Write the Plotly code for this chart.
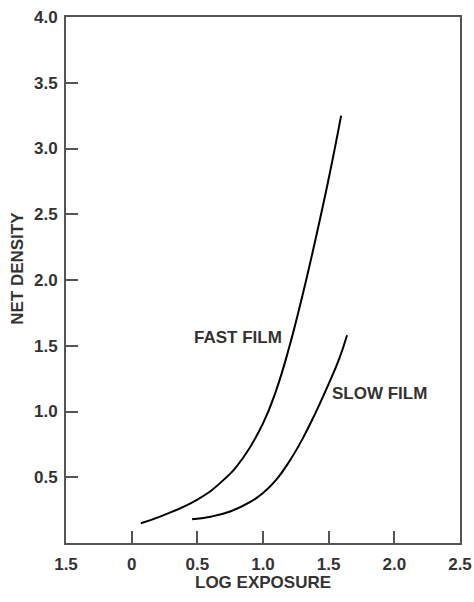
import plotly.graph_objects as go

# Fast film characteristic curve (log exposure, net density)
fast_x = [0.07, 0.24, 0.50, 0.70, 0.85, 1.00, 1.10, 1.20, 1.30, 1.40, 1.50, 1.595]
fast_y = [0.15, 0.21, 0.33, 0.48, 0.65, 0.91, 1.16, 1.49, 1.88, 2.31, 2.77, 3.25]

# Slow film characteristic curve
slow_x = [0.46, 0.60, 0.75, 0.90, 1.00, 1.10, 1.20, 1.30, 1.40, 1.50, 1.58, 1.64]
slow_y = [0.18, 0.20, 0.24, 0.31, 0.38, 0.48, 0.62, 0.79, 0.99, 1.21, 1.40, 1.58]

x_tickvals = [-0.5, 0, 0.5, 1.0, 1.5, 2.0, 2.5]
x_ticktext = ["1.5", "0", "0.5", "1.0", "1.5", "2.0", "2.5"]
y_tickvals = [0.5, 1.0, 1.5, 2.0, 2.5, 3.0, 3.5, 4.0]
y_ticktext = ["0.5", "1.0", "1.5", "2.0", "2.5", "3.0", "3.5", "4.0"]

labels = [("FAST FILM", 0.81, 1.56), ("SLOW FILM", 1.89, 1.14)]

FONT = "Liberation Sans, Arial, sans-serif"
TXT = "#333333"
AX = "#555555"
FS = 17

fig = go.Figure()
fig.add_trace(go.Scatter(x=fast_x, y=fast_y, mode="lines",
                         line=dict(color="black", width=2, shape="spline", smoothing=1.3),
                         name="Fast film", showlegend=False, hoverinfo="skip"))
fig.add_trace(go.Scatter(x=slow_x, y=slow_y, mode="lines",
                         line=dict(color="black", width=2, shape="spline", smoothing=1.3),
                         name="Slow film", showlegend=False, hoverinfo="skip"))

for text, x, y in labels:
    fig.add_annotation(x=x, y=y, text="<b>%s</b>" % text, showarrow=False,
                       font=dict(family=FONT, size=FS, color=TXT))

# axis titles
fig.add_annotation(xref="paper", yref="paper", x=0.5, y=-0.076, text="<b>LOG EXPOSURE</b>",
                   showarrow=False, xanchor="center", yanchor="middle",
                   font=dict(family=FONT, size=FS, color=TXT))
fig.add_annotation(xref="paper", yref="paper", x=-0.122, y=0.523, text="<b>NET DENSITY</b>",
                   showarrow=False, xanchor="center", yanchor="middle", textangle=-90,
                   font=dict(family=FONT, size=FS, color=TXT))

fig.update_layout(
    width=474, height=602,
    margin=dict(l=66, r=14, t=17, b=59),
    paper_bgcolor="white", plot_bgcolor="white",
    font=dict(family=FONT, size=FS, color=TXT),
    xaxis=dict(range=[-0.5, 2.5], tickvals=x_tickvals, ticktext=x_ticktext,
               ticks="inside", ticklen=12, tickwidth=1.5, tickcolor=AX,
               showline=True, linecolor=AX, linewidth=2, mirror=True,
               showgrid=False, zeroline=False, ticklabelstandoff=5, automargin=False,
               tickfont=dict(family=FONT, size=FS, color=TXT, weight="bold")),
    yaxis=dict(range=[0, 4.0], tickvals=y_tickvals, ticktext=y_ticktext,
               ticks="inside", ticklen=12, tickwidth=1.5, tickcolor=AX,
               showline=True, linecolor=AX, linewidth=2, mirror=True,
               showgrid=False, zeroline=False, ticklabelstandoff=3, automargin=False,
               tickfont=dict(family=FONT, size=FS, color=TXT, weight="bold")),
)

fig.write_html("out.html")
